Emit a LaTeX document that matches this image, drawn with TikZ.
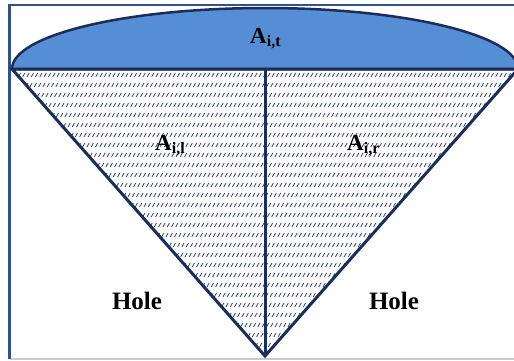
\documentclass[tikz,border=0pt]{standalone}
\usepackage{fontspec}
\setmainfont{Liberation Serif}
\definecolor{navy}{RGB}{28,45,92}
\definecolor{framecol}{RGB}{47,82,143}
\definecolor{framelight}{RGB}{196,202,216}
\definecolor{domefill}{RGB}{86,142,213}
\definecolor{hatchcol}{RGB}{45,70,130}
\tikzset{
  edge/.style={draw=navy, line width=3pt, line join=miter},
  lbl/.style={font=\bfseries\fontsize{23}{23}\selectfont, inner sep=0pt, anchor=base west},
  hole/.style={font=\bfseries\fontsize{25}{25}\selectfont, inner sep=0pt, anchor=base},
}
\newcommand{\subfs}{\fontsize{16}{16}\selectfont}
\begin{document}
\begin{tikzpicture}[x=1pt,y=1pt]
\useasboundingbox (0,0) rectangle (514,360);
% frame
\coordinate (fbl) at (9.5,1);
\coordinate (ftl) at (9.5,355);
\coordinate (ftr) at (540,355);
\coordinate (fbr) at (540,1);
\draw[framelight, line width=2pt] (fbl) -- (fbr);
\draw[framecol, line width=2.5pt] (fbl) -- (ftl) -- (ftr);
% key points
\coordinate (L) at (12,291);
\coordinate (R) at (518,291);
\coordinate (B) at (265,4);
\coordinate (M) at (265,291);
% hatch
\begin{scope}
  \clip (L) -- (R) -- (B) -- cycle;
  \foreach \i in {0,...,160}{
    \draw[hatchcol, line width=0.8pt, dash pattern=on 4.6pt off 6.84pt]
      ({-160+\i*4.3},-7) -- ++(172,309.6);
  }
\end{scope}
% dome
\draw[edge, fill=domefill, line width=2.5pt] (L) arc[start angle=180, end angle=0, x radius=253, y radius=61] -- cycle;
% triangle
\draw[edge] (L) -- (R) -- (B) -- cycle;
\draw[edge] (M) -- (B);
% labels
\node[lbl] (at) at (250,317) {A\raisebox{-3pt}{\subfs i,t}};
\node[lbl] (al) at (155,210) {A\raisebox{-3pt}{\subfs i,l}};
\node[lbl] (ar) at (347,210) {A\raisebox{-3pt}{\subfs i,r}};
\node[hole] (h1) at (137,51) {Hole};
\node[hole] (h2) at (394,51) {Hole};
\end{tikzpicture}
\end{document}
